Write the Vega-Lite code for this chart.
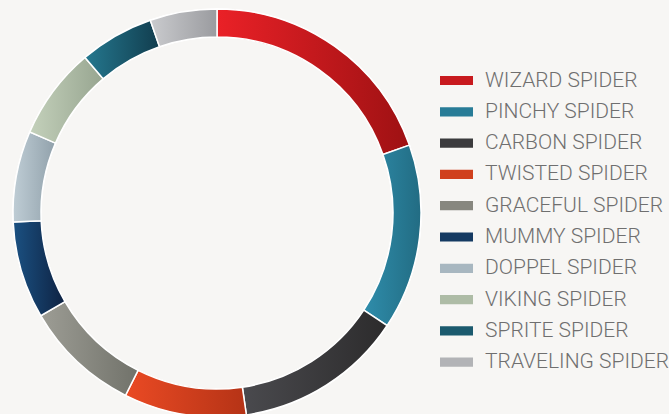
{
  "$schema": "https://vega.github.io/schema/vega-lite/v6.json",
  "width": 434,
  "height": 426,
  "autosize": {"type": "pad"},
  "padding": 0,
  "background": "#f7f6f4",
  "config": {"view": {"stroke": null}},
  "data": {
    "values": [
      {"name": "WIZARD SPIDER", "value": 19.6, "order": 1},
      {"name": "PINCHY SPIDER", "value": 14.7, "order": 2},
      {"name": "CARBON SPIDER", "value": 13.4, "order": 3},
      {"name": "TWISTED SPIDER", "value": 9.7, "order": 4},
      {"name": "GRACEFUL SPIDER", "value": 9.2, "order": 5},
      {"name": "MUMMY SPIDER", "value": 7.7, "order": 6},
      {"name": "DOPPEL SPIDER", "value": 7.2, "order": 7},
      {"name": "VIKING SPIDER", "value": 7.3, "order": 8},
      {"name": "SPRITE SPIDER", "value": 5.9, "order": 9},
      {"name": "TRAVELING SPIDER", "value": 5.3, "order": 10}
    ]
  },
  "transform": [
    {"stack": "value", "groupby": [], "sort": [{"field": "order", "order": "ascending"}], "as": ["v0", "v1"]}
  ],
  "layer": [
    {
      "mark": {"type": "arc", "outerRadius": 204, "innerRadius": 176, "stroke": "#ffffff", "strokeWidth": 1.5},
      "encoding": {
        "theta": {"field": "v0", "type": "quantitative", "scale": {"domain": [0, 100]}},
        "theta2": {"field": "v1"},
        "color": {
          "field": "name",
          "type": "nominal",
          "sort": {"field": "order"},
          "scale": {
            "domain": ["WIZARD SPIDER", "PINCHY SPIDER", "CARBON SPIDER", "TWISTED SPIDER", "GRACEFUL SPIDER", "MUMMY SPIDER", "DOPPEL SPIDER", "VIKING SPIDER", "SPRITE SPIDER", "TRAVELING SPIDER"],
            "range": ["#c81a1e", "#287c97", "#3b3b3d", "#d0401d", "#87877f", "#153a62", "#a8b7c0", "#aebca6", "#1b5a6e", "#b2b3b6"]
          },
          "legend": {
            "orient": "none",
            "legendX": 440,
            "legendY": 64,
            "title": null,
            "padding": 0,
            "symbolType": "M-1,-0.28H1V0.28H-1Z",
            "symbolSize": 1089,
            "symbolStrokeWidth": 0,
            "labelFont": "Roboto",
            "labelFontWeight": 300,
            "labelFontSize": 21,
            "labelColor": "#6f6f6f",
            "labelOffset": 12,
            "labelLimit": 300,
            "rowPadding": 4.3
          }
        }
      }
    },
    {
      "mark": {"type": "arc", "outerRadius": 204, "innerRadius": 176, "stroke": "#ffffff", "strokeWidth": 1.5},
      "encoding": {
        "theta": {"field": "v0", "type": "quantitative", "scale": {"domain": [0, 100]}},
        "theta2": {"field": "v1"},
        "fill": {
          "condition": [
            {"test": "datum.name === 'WIZARD SPIDER'", "value": {"gradient": "linear", "x1": 0, "y1": 0, "x2": 1, "y2": 0, "stops": [{"offset": 0, "color": "#ea2127"}, {"offset": 1, "color": "#9e1113"}]}},
            {"test": "datum.name === 'PINCHY SPIDER'", "value": {"gradient": "linear", "x1": 0, "y1": 0, "x2": 1, "y2": 0, "stops": [{"offset": 0, "color": "#2f8dab"}, {"offset": 1, "color": "#226c83"}]}},
            {"test": "datum.name === 'CARBON SPIDER'", "value": {"gradient": "linear", "x1": 0, "y1": 0, "x2": 1, "y2": 0, "stops": [{"offset": 0, "color": "#4a4a4e"}, {"offset": 1, "color": "#2c2b2c"}]}},
            {"test": "datum.name === 'TWISTED SPIDER'", "value": {"gradient": "linear", "x1": 0, "y1": 0, "x2": 1, "y2": 0, "stops": [{"offset": 0, "color": "#ea4a24"}, {"offset": 1, "color": "#b53316"}]}},
            {"test": "datum.name === 'GRACEFUL SPIDER'", "value": {"gradient": "linear", "x1": 0, "y1": 0, "x2": 1, "y2": 0, "stops": [{"offset": 0, "color": "#9d9d95"}, {"offset": 1, "color": "#71726a"}]}},
            {"test": "datum.name === 'MUMMY SPIDER'", "value": {"gradient": "linear", "x1": 0, "y1": 0, "x2": 1, "y2": 0, "stops": [{"offset": 0, "color": "#1b5182"}, {"offset": 1, "color": "#0e2242"}]}},
            {"test": "datum.name === 'DOPPEL SPIDER'", "value": {"gradient": "linear", "x1": 0, "y1": 0, "x2": 1, "y2": 0, "stops": [{"offset": 0, "color": "#bfcdd5"}, {"offset": 1, "color": "#91a1ab"}]}},
            {"test": "datum.name === 'VIKING SPIDER'", "value": {"gradient": "linear", "x1": 0, "y1": 0, "x2": 1, "y2": 0, "stops": [{"offset": 0, "color": "#c4d1bb"}, {"offset": 1, "color": "#97a590"}]}},
            {"test": "datum.name === 'SPRITE SPIDER'", "value": {"gradient": "linear", "x1": 0, "y1": 0, "x2": 1, "y2": 0, "stops": [{"offset": 0, "color": "#25788f"}, {"offset": 1, "color": "#113d4e"}]}}
          ],
          "value": {"gradient": "linear", "x1": 0, "y1": 0, "x2": 1, "y2": 0, "stops": [{"offset": 0, "color": "#cacbce"}, {"offset": 1, "color": "#9a9b9f"}]}
        }
      }
    }
  ]
}
